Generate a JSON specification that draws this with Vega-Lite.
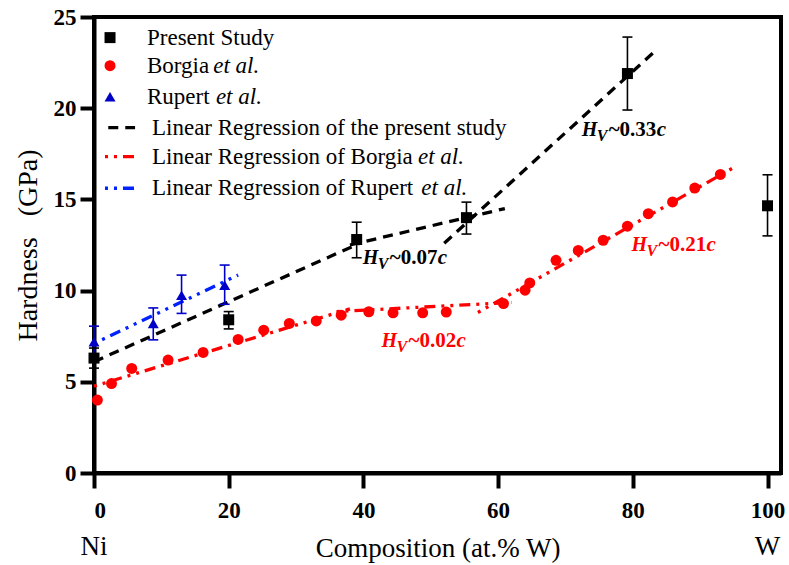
{
  "$schema": "https://vega.github.io/schema/vega-lite/v6.json",
  "width": 687,
  "height": 456,
  "autosize": {"type": "none"},
  "padding": {"left": 94, "top": 17, "right": 8, "bottom": 92},
  "background": "white",
  "config": {
    "view": {"stroke": "#000000", "strokeWidth": 4},
    "font": "'Liberation Serif', 'Times New Roman', Times, serif",
    "axis": {
      "grid": false,
      "domainColor": "#000000",
      "domainWidth": 4,
      "tickColor": "#000000",
      "tickWidth": 4,
      "labelFont": "'Liberation Serif', 'Times New Roman', Times, serif",
      "labelFontSize": 23,
      "labelFontWeight": "bold",
      "labelColor": "#000000",
      "titleFont": "'Liberation Serif', 'Times New Roman', Times, serif",
      "titleFontSize": 27,
      "titleFontWeight": "normal",
      "titleColor": "#000000"
    }
  },
  "datasets": {
    "pts": [
      {"x": 0, "y": 6.3, "s": "Present"},
      {"x": 20, "y": 8.4, "s": "Present"},
      {"x": 39, "y": 12.8, "s": "Present"},
      {"x": 55.3, "y": 14.0, "s": "Present"},
      {"x": 79.2, "y": 21.9, "s": "Present"},
      {"x": 100, "y": 14.65, "s": "Present"},
      {"x": 0.5, "y": 4.0, "s": "Borgia"},
      {"x": 2.6, "y": 4.9, "s": "Borgia"},
      {"x": 5.6, "y": 5.73, "s": "Borgia"},
      {"x": 11.0, "y": 6.19, "s": "Borgia"},
      {"x": 16.2, "y": 6.61, "s": "Borgia"},
      {"x": 21.4, "y": 7.32, "s": "Borgia"},
      {"x": 25.2, "y": 7.83, "s": "Borgia"},
      {"x": 29.0, "y": 8.2, "s": "Borgia"},
      {"x": 33.0, "y": 8.34, "s": "Borgia"},
      {"x": 36.7, "y": 8.65, "s": "Borgia"},
      {"x": 40.8, "y": 8.84, "s": "Borgia"},
      {"x": 44.4, "y": 8.78, "s": "Borgia"},
      {"x": 48.8, "y": 8.78, "s": "Borgia"},
      {"x": 52.3, "y": 8.82, "s": "Borgia"},
      {"x": 60.8, "y": 9.29, "s": "Borgia"},
      {"x": 64.0, "y": 10.02, "s": "Borgia"},
      {"x": 64.7, "y": 10.42, "s": "Borgia"},
      {"x": 68.6, "y": 11.66, "s": "Borgia"},
      {"x": 71.9, "y": 12.2, "s": "Borgia"},
      {"x": 75.6, "y": 12.76, "s": "Borgia"},
      {"x": 79.2, "y": 13.53, "s": "Borgia"},
      {"x": 82.3, "y": 14.22, "s": "Borgia"},
      {"x": 85.9, "y": 14.86, "s": "Borgia"},
      {"x": 89.2, "y": 15.62, "s": "Borgia"},
      {"x": 93.0, "y": 16.37, "s": "Borgia"},
      {"x": 0, "y": 7.2, "s": "Rupert"},
      {"x": 8.8, "y": 8.2, "s": "Rupert"},
      {"x": 13.0, "y": 9.75, "s": "Rupert"},
      {"x": 19.4, "y": 10.3, "s": "Rupert"}
    ],
    "errs": [
      {"x": 0, "y": 5.75, "y2": 6.85, "s": "Present"},
      {"x": 20, "y": 7.9, "y2": 8.85, "s": "Present"},
      {"x": 39, "y": 11.8, "y2": 13.75, "s": "Present"},
      {"x": 55.3, "y": 13.1, "y2": 14.85, "s": "Present"},
      {"x": 79.2, "y": 19.9, "y2": 23.9, "s": "Present"},
      {"x": 100, "y": 13.0, "y2": 16.35, "s": "Present"},
      {"x": 0, "y": 6.35, "y2": 8.05, "s": "Rupert"},
      {"x": 8.8, "y": 7.3, "y2": 9.05, "s": "Rupert"},
      {"x": 13.0, "y": 8.75, "y2": 10.85, "s": "Rupert"},
      {"x": 19.4, "y": 9.25, "y2": 11.4, "s": "Rupert"}
    ],
    "caps": [
      {"x": 0, "y": 5.75, "s": "Present"},
      {"x": 0, "y": 6.85, "s": "Present"},
      {"x": 20, "y": 7.9, "s": "Present"},
      {"x": 20, "y": 8.85, "s": "Present"},
      {"x": 39, "y": 11.8, "s": "Present"},
      {"x": 39, "y": 13.75, "s": "Present"},
      {"x": 55.3, "y": 13.1, "s": "Present"},
      {"x": 55.3, "y": 14.85, "s": "Present"},
      {"x": 79.2, "y": 19.9, "s": "Present"},
      {"x": 79.2, "y": 23.9, "s": "Present"},
      {"x": 100, "y": 13.0, "s": "Present"},
      {"x": 100, "y": 16.35, "s": "Present"},
      {"x": 0, "y": 6.35, "s": "Rupert"},
      {"x": 0, "y": 8.05, "s": "Rupert"},
      {"x": 8.8, "y": 7.3, "s": "Rupert"},
      {"x": 8.8, "y": 9.05, "s": "Rupert"},
      {"x": 13.0, "y": 8.75, "s": "Rupert"},
      {"x": 13.0, "y": 10.85, "s": "Rupert"},
      {"x": 19.4, "y": 9.25, "s": "Rupert"},
      {"x": 19.4, "y": 11.4, "s": "Rupert"}
    ],
    "fits": [
      {"x": 0, "y": 6.1, "x2": 39.5, "y2": 12.6, "s": "Present fit"},
      {"x": 38, "y": 12.5, "x2": 61, "y2": 14.5, "s": "Present fit"},
      {"x": 52, "y": 12.6, "x2": 83.5, "y2": 23.2, "s": "Present fit"},
      {"x": 0, "y": 4.76, "x2": 38, "y2": 9.0, "s": "Borgia fit"},
      {"x": 36, "y": 8.85, "x2": 62, "y2": 9.35, "s": "Borgia fit"},
      {"x": 57, "y": 8.8, "x2": 95, "y2": 16.75, "s": "Borgia fit"},
      {"x": 0, "y": 7.1, "x2": 21.4, "y2": 10.85, "s": "Rupert fit"},
      {"x": 2.12, "y": 18.93, "x2": 6.1, "y2": 18.93, "s": "Present fit"},
      {"x": 1.63, "y": 17.34, "x2": 6.1, "y2": 17.34, "s": "Borgia fit"},
      {"x": 1.63, "y": 15.61, "x2": 6.1, "y2": 15.61, "s": "Rupert fit"}
    ],
    "legSym": [
      {"x": 2.38, "y": 23.87, "s": "Present"},
      {"x": 2.38, "y": 22.33, "s": "Borgia"},
      {"x": 2.38, "y": 20.63, "s": "Rupert"}
    ],
    "legText": [
      {"x": 7.87, "y": 23.87, "t": "Present Study"},
      {"x": 7.87, "y": 22.33, "t": "Borgia"},
      {"x": 7.87, "y": 20.63, "t": "Rupert"},
      {"x": 8.61, "y": 18.93, "t": "Linear Regression of the present study"},
      {"x": 8.61, "y": 17.34, "t": "Linear Regression of Borgia"},
      {"x": 8.61, "y": 15.61, "t": "Linear Regression of Rupert"}
    ],
    "legItal": [
      {"x": 17.7, "y": 22.33, "t": "et al."},
      {"x": 18.1, "y": 20.63, "t": "et al."},
      {"x": 48.1, "y": 17.34, "t": "et al."},
      {"x": 48.6, "y": 15.61, "t": "et al."}
    ],
    "ends": [
      {"x": 0, "y": -4.03, "t": "Ni"},
      {"x": 100, "y": -4.03, "t": "W"}
    ],
    "notes": [
      {"x": 39.9, "y": 11.46, "s": "Present", "n": "~0.07"},
      {"x": 72.4, "y": 18.48, "s": "Present", "n": "~0.33"},
      {"x": 79.8, "y": 12.17, "s": "Borgia", "n": "~0.21"},
      {"x": 42.7, "y": 6.89, "s": "Borgia", "n": "~0.02"}
    ]
  },
  "encoding": {
    "x": {
      "field": "x",
      "type": "quantitative",
      "scale": {"domain": [0, 102], "nice": false, "zero": false},
      "axis": {
        "values": [0, 20, 40, 60, 80, 100],
        "format": "d",
        "title": "Composition (at.% W)",
        "titlePadding": 13,
        "labelPadding": 11,
        "tickSize": 15
      }
    },
    "y": {
      "field": "y",
      "type": "quantitative",
      "scale": {"domain": [0, 25], "nice": false},
      "axis": {
        "values": [0, 5, 10, 15, 20, 25],
        "format": "d",
        "title": "Hardness\u00a0\u00a0 (GPa)",
        "titleFontSize": 28,
        "titlePadding": 11,
        "labelPadding": 4,
        "tickSize": 14
      }
    },
    "color": {"field": "s", "type": "nominal", "legend": null,
      "scale": {"domain": ["Present", "Borgia", "Rupert", "Present fit", "Borgia fit", "Rupert fit"],
                "range": ["#000000", "#ff0000", "#0000c8", "#000000", "#ff0000", "#0022ff"]}}
  },
  "layer": [
    {
      "data": {"name": "fits"},
      "mark": {"type": "rule", "strokeWidth": 3.3, "strokeCap": "butt"},
      "encoding": {
        "x2": {"field": "x2"},
        "y2": {"field": "y2"},
        "strokeDash": {"field": "s", "type": "nominal", "legend": null,
          "scale": {"domain": ["Present fit", "Borgia fit", "Rupert fit"],
                    "range": [[10, 7], [3, 6, 3, 6, 11, 6], [3, 6, 3, 6, 11, 6]]}}
      }
    },
    {
      "data": {"name": "errs"},
      "mark": {"type": "rule", "strokeWidth": 1.6},
      "encoding": {
        "y2": {"field": "y2"}
      }
    },
    {
      "data": {"name": "caps"},
      "mark": {"type": "tick", "orient": "horizontal", "size": 10, "thickness": 1.6, "opacity": 1},
      "encoding": {}
    },
    {
      "data": {"name": "pts"},
      "mark": {"type": "point", "filled": true, "opacity": 1, "size": 121, "strokeWidth": 0},
      "encoding": {
        "shape": {"field": "s", "type": "nominal", "legend": null,
          "scale": {"domain": ["Present", "Borgia", "Rupert"], "range": ["square", "circle", "triangle-up"]}}
      }
    },
    {
      "data": {"name": "legSym"},
      "mark": {"type": "point", "filled": true, "opacity": 1, "size": 121, "strokeWidth": 0},
      "encoding": {
        "shape": {"field": "s", "type": "nominal", "legend": null,
          "scale": {"domain": ["Present", "Borgia", "Rupert"], "range": ["square", "circle", "triangle-up"]}}
      }
    },
    {
      "data": {"name": "legText"},
      "mark": {"type": "text", "align": "left", "baseline": "middle", "fontSize": 23, "color": "#000000"},
      "encoding": {"text": {"field": "t", "type": "nominal"}, "color": {"value": "#000000"}}
    },
    {
      "data": {"name": "legItal"},
      "mark": {"type": "text", "align": "left", "baseline": "middle", "fontSize": 23, "fontStyle": "italic", "color": "#000000"},
      "encoding": {"text": {"field": "t", "type": "nominal"}, "color": {"value": "#000000"}}
    },
    {
      "data": {"name": "ends"},
      "mark": {"type": "text", "align": "center", "baseline": "middle", "fontSize": 27, "color": "#000000"},
      "encoding": {"text": {"field": "t", "type": "nominal"}, "color": {"value": "#000000"}}
    },
    {
      "data": {"name": "notes"},
      "mark": {"type": "text", "text": "H", "align": "left", "baseline": "alphabetic", "fontSize": 20, "fontWeight": "bold", "fontStyle": "italic"},
      "encoding": {}
    },
    {
      "data": {"name": "notes"},
      "mark": {"type": "text", "text": "V", "align": "left", "baseline": "alphabetic", "dx": 15, "dy": 5, "fontSize": 16, "fontWeight": "bold", "fontStyle": "italic"},
      "encoding": {}
    },
    {
      "data": {"name": "notes"},
      "mark": {"type": "text", "align": "left", "baseline": "alphabetic", "dx": 27, "fontSize": 21, "fontWeight": "bold"},
      "encoding": {"text": {"field": "n", "type": "nominal"}}
    },
    {
      "data": {"name": "notes"},
      "mark": {"type": "text", "text": "c", "align": "left", "baseline": "alphabetic", "dx": 75, "fontSize": 21, "fontWeight": "bold", "fontStyle": "italic"},
      "encoding": {}
    }
  ]
}
